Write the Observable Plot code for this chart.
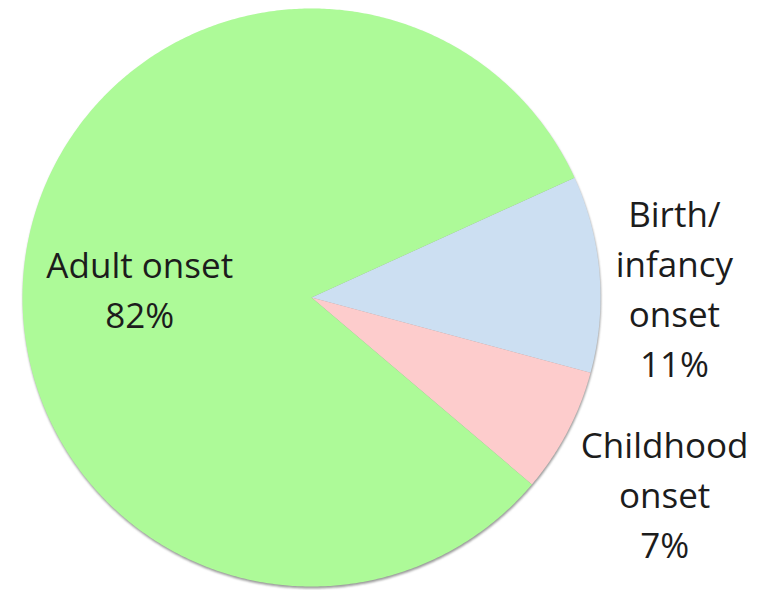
<!DOCTYPE html>
<html>
<head>
<meta charset="utf-8">
<script src="https://cdn.jsdelivr.net/npm/d3@7"></script>
<script src="https://cdn.jsdelivr.net/npm/@observablehq/plot@0.6"></script>
<style>
  html, body { margin: 0; padding: 0; background: #fff; }
  #chart svg { display: block; }
</style>
</head>
<body>
<div id="chart"></div>
<script>
// ---- data ----
const categories = ["Birth/infancy onset", "Childhood onset", "Adult onset"];
const values = [11, 7, 82];
const labelTexts = ["Birth/\ninfancy\nonset\n11%", "Childhood\nonset\n7%", "Adult onset\n82%"];
const colors = ["#CCDFF2", "#FDCCCC", "#ADFA98"];

// ---- derived geometry (unit circle, clockwise from 12 o'clock) ----
const startAngle = 65.5 * Math.PI / 180;
const total = d3.sum(values);
const ends = Array.from(d3.cumsum(values));
const slices = categories.map((c, i) => {
  const a0 = startAngle + (ends[i] - values[i]) / total * 2 * Math.PI;
  const a1 = startAngle + ends[i] / total * 2 * Math.PI;
  return {category: c, value: values[i], label: labelTexts[i], a0, a1, mid: (a0 + a1) / 2};
});
const step = Math.PI / 360;
const slicePoints = slices.flatMap(s => {
  const n = Math.max(2, Math.ceil((s.a1 - s.a0) / step));
  const pts = [{category: s.category, x: 0, y: 0}];
  for (let k = 0; k <= n; k++) {
    const a = s.a0 + (s.a1 - s.a0) * k / n;
    pts.push({category: s.category, x: Math.sin(a), y: Math.cos(a)});
  }
  pts.push({category: s.category, x: 0, y: 0});
  return pts;
});
const rimPoints = d3.range(0, 721).map(k => {
  const a = k * step;
  return {x: Math.sin(a), y: Math.cos(a)};
});
const at = (s, r) => ({x: Math.sin(s.mid) * r, y: Math.cos(s.mid) * r, label: s.label});

const font = "'Open Sans', sans-serif";
const textOpts = {x: "x", y: "y", text: "label", fontSize: 35, fontFamily: font, fill: "#1c1c1c", lineHeight: 1.43, textAnchor: "middle"};

const chart = Plot.plot({
  width: 762,
  height: 590,
  marginLeft: 22,
  marginRight: 162,
  marginTop: 8,
  marginBottom: 4,
  x: {domain: [-1, 1], axis: null},
  y: {domain: [-1, 1], axis: null},
  color: {domain: categories, range: colors},
  marks: [
    Plot.line(rimPoints, {x: "x", y: "y", fill: "#9a9a9a", stroke: "none", dx: 0.5, dy: 2, imageFilter: "blur(1.2px)"}),
    Plot.line(slicePoints, {x: "x", y: "y", z: "category", fill: "category", stroke: "none"}),
    Plot.text([at(slices[2], 0.6)], {...textOpts, dy: 13}),
    Plot.text([at(slices[0], 1.26)], {...textOpts, dy: 18}),
    Plot.text([at(slices[1], 1.38)], {...textOpts, dy: 9})
  ]
});
document.getElementById("chart").appendChild(chart);
</script>
</body>
</html>
